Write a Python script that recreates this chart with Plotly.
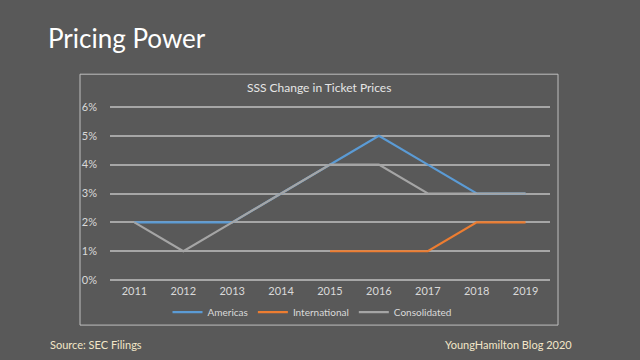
import plotly.graph_objects as go

years = ["2011", "2012", "2013", "2014", "2015", "2016", "2017", "2018", "2019"]
americas = [2, 2, 2, 3, 4, 5, 4, 3, 3]
international = [None, None, None, None, 1, 1, 1, 2, 2]
consolidated = [2, 1, 2, 3, 4, 4, 3, 3, 3]
y_ticks = [0, 1, 2, 3, 4, 5, 6]
y_labels = [f"{v}%" for v in y_ticks]

BG = "#595959"
FONT = "Lato"

fig = go.Figure()
fig.add_trace(go.Scatter(x=years, y=americas, name="Americas", mode="lines",
                         line=dict(color="#5b9bd5", width=2.2)))
fig.add_trace(go.Scatter(x=years, y=international, name="International", mode="lines",
                         line=dict(color="#ed7d31", width=2.2)))
fig.add_trace(go.Scatter(x=years, y=consolidated, name="Consolidated", mode="lines",
                         line=dict(color="#a5a5a5", width=2.2)))

# pixel geometry: 0% at y=280, 6% at y=106.7; pad range by 0.1 unit
unit = (280 - 106.7) / 6
pad = 0.1
L, R = 110, 550
T, B = 106.7 - pad * unit, 280 + pad * unit
W, H = 640, 360
pw, ph = R - L, B - T

def px(x):
    return (x - L) / pw

def py(y):
    return (B - y) / ph

fig.update_layout(
    width=W, height=H,
    paper_bgcolor=BG, plot_bgcolor=BG,
    margin=dict(l=L, r=W - R, t=T, b=H - B),
    showlegend=True,
    legend=dict(orientation="h", x=px(312), xanchor="center", y=py(312), yanchor="middle",
                font=dict(family=FONT, size=10, color="#d9d9d9"),
                bgcolor="rgba(0,0,0,0)", itemwidth=30, tracegroupgap=0),
    xaxis=dict(type="category", range=[-0.5, 8.5], showgrid=False, zeroline=False,
               showline=False, ticks="",
               tickfont=dict(family=FONT, size=11, color="#d9d9d9")),
    yaxis=dict(range=[-pad, 6 + pad], tickmode="array", tickvals=y_ticks, ticktext=y_labels,
               showgrid=True, gridcolor="#a6a6a6", gridwidth=1.5, zeroline=False,
               showline=False, ticks="", ticklabelstandoff=12,
               tickfont=dict(family=FONT, size=11, color="#d9d9d9")),
    shapes=[dict(type="rect", xref="paper", yref="paper",
                 x0=px(80), x1=px(558), y0=py(325), y1=py(74),
                 line=dict(color="#bfbfbf", width=1), fillcolor="rgba(0,0,0,0)", layer="below")],
    annotations=[
        dict(text="Pricing Power", xref="paper", yref="paper", x=px(46), y=py(38),
             xanchor="left", yanchor="middle", showarrow=False,
             font=dict(family=FONT, size=26, color="#ffffff")),
        dict(text="SSS Change in Ticket Prices", xref="paper", yref="paper", x=px(319), y=py(87),
             xanchor="center", yanchor="middle", showarrow=False,
             font=dict(family=FONT, size=12, color="#e6e6e6")),
        dict(text="Source: SEC Filings", xref="paper", yref="paper", x=px(48), y=py(344),
             xanchor="left", yanchor="middle", showarrow=False,
             font=dict(family=FONT, size=11, color="#f2e6c8")),
        dict(text="YoungHamilton Blog 2020", xref="paper", yref="paper", x=px(574), y=py(344),
             xanchor="right", yanchor="middle", showarrow=False,
             font=dict(family=FONT, size=11, color="#f2e6c8")),
    ],
)

fig.write_html("out.html", config={"displayModeBar": False},
               post_script="document.body.style.margin='0';document.body.style.background='#595959';")
